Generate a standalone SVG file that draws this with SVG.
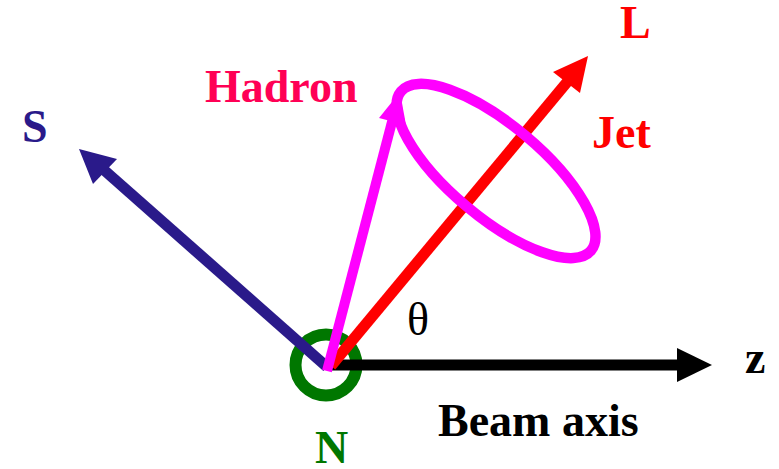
<svg xmlns="http://www.w3.org/2000/svg" width="779" height="469" viewBox="0 0 779 469">
<style>
text{font-family:"Liberation Serif","Times New Roman",serif;font-size:46px;font-weight:bold}
.ln{fill:none;stroke-linecap:butt}
</style>
<rect width="779" height="469" fill="#fff"/>
<g id="origin">
<circle cx="326" cy="365" r="30.5" fill="none" stroke="#007700" stroke-width="12"/>
</g>
<g id="connectors">
<g id="s-axis">
<line class="ln" x1="327" y1="367" x2="104" y2="170" stroke="#2a1a8a" stroke-width="11"/>
<polygon points="79,149 117,159 93,184" fill="#2a1a8a"/>
</g>
<g id="z-axis">
<line class="ln" x1="330" y1="365" x2="680" y2="365" stroke="#000" stroke-width="11"/>
<polygon points="712,365 677,348 677,382" fill="#000"/>
</g>
<g id="jet-axis">
<line class="ln" x1="331" y1="366" x2="568" y2="81" stroke="#ff0000" stroke-width="11"/>
<polygon points="588,56 553,72 580,93" fill="#ff0000"/>
</g>
<g id="hadron">
<line class="ln" x1="327" y1="371" x2="393" y2="118" stroke="#ff00ff" stroke-width="10"/>
<polygon points="400,92 406,125 379,118" fill="#ff00ff"/>
</g>
</g>
<g id="jet-cone">
<ellipse cx="496" cy="171" rx="124" ry="46" transform="rotate(40 496 171)" fill="none" stroke="#ff00ff" stroke-width="10.5"/>
</g>
<g id="labels">
<text x="205" y="102" fill="#ff0055">Hadron</text>
<text x="620" y="38" fill="#ff0000">L</text>
<text x="592" y="148" fill="#ff0000">Jet</text>
<text x="22" y="142" fill="#2a1a8a">S</text>
<text x="315" y="463" fill="#007700">N</text>
<text x="745" y="373" fill="#000">z</text>
<text x="438" y="436" fill="#000">Beam axis</text>
<text x="407" y="335" fill="#000" style="font-weight:normal">θ</text>
</g>
</svg>
